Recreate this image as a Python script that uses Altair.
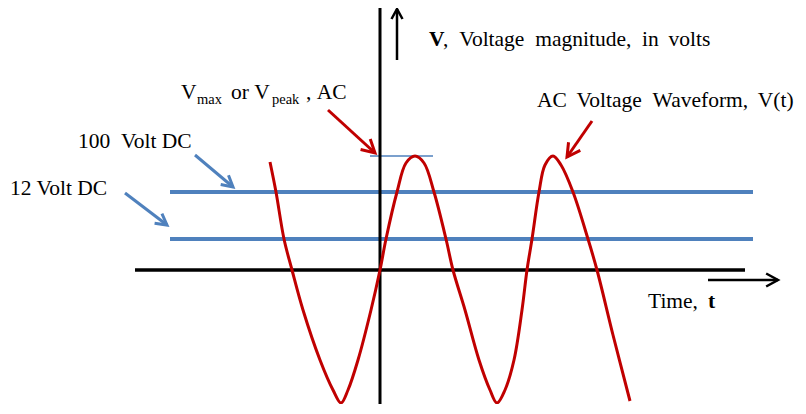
import math
import altair as alt
import pandas as pd

# ---- data (origin where the two axes cross; 1 unit = 1 px) ----
wave_t = [-110, -104, -96, -88, -77, -60, -47, -39, -32, -22, -9, 0, 6, 17, 26, 35,
          44, 54, 66, 73, 85, 99, 110, 117, 125, 134, 142, 147, 152, 159, 165, 173,
          181, 193, 208, 217, 233, 250]
wave_v = [108, 78, 31, 0, -40, -90, -120, -133, -120, -90, -40, 0, 31, 78, 107, 114,
          107, 78, 31, 0, -40, -90, -120, -133, -120, -90, -40, 0, 31, 78, 105, 114,
          105, 78, 31, 0, -65, -131]

dc_names = ["100 Volt DC", "12 Volt DC"]
dc_levels = [78, 31]
dc_span = [-210, 373]

vpeak_level = 114
vpeak_span = [-10, 53]

time_axis_span = [-245, 365]
volt_axis_span = [-134, 262]

# arrows: tail (t1, v1) -> tip (t2, v2)
arrow_names = ["vmax", "ac", "dc100", "dc12", "time", "volt"]
arrow_t1 = [-52, 212, -185, -255, 328, 17]
arrow_v1 = [160, 149, 115, 77, -10, 210]
arrow_t2 = [-5, 187, -147, -213, 398, 17]
arrow_v2 = [117, 113, 83, 45, -10, 261]

RED = "#C00000"
BLUE = "#4F81BD"
BLACK = "#000000"
arrow_colors = [RED, RED, BLUE, BLUE, BLACK, BLACK]
arrow_widths = [3, 3, 3, 3, 2.5, 2.5]
arrow_heads = [676, 676, 484, 484, 560, 400]

FONT = "Liberation Serif"
NB = "\u00a0"
TH = "\u2009"

# ---- tables ----
wave = pd.DataFrame({"t": wave_t, "v": wave_v, "i": range(len(wave_t))})
dc = pd.DataFrame({"name": dc_names, "v": dc_levels,
                   "t": [dc_span[0]] * 2, "t2": [dc_span[1]] * 2})
vpk = pd.DataFrame({"t": [vpeak_span[0]], "t2": [vpeak_span[1]], "v": [vpeak_level]})
haxis = pd.DataFrame({"t": [time_axis_span[0]], "t2": [time_axis_span[1]], "v": [0]})
vaxis = pd.DataFrame({"t": [0], "v": [volt_axis_span[0]], "v2": [volt_axis_span[1]]})

angles = []
for a, b, c, d in zip(arrow_t1, arrow_v1, arrow_t2, arrow_v2):
    angles.append(math.degrees(math.atan2(c - a, d - b)) % 360)
arrows = pd.DataFrame({"name": arrow_names, "t": arrow_t1, "v": arrow_v1,
                       "t2": arrow_t2, "v2": arrow_v2, "color": arrow_colors,
                       "w": arrow_widths, "size": arrow_heads, "ang": angles})

texts_reg = pd.DataFrame({
    "text": [
        f",{NB}{NB}Voltage{NB}{NB}magnitude,{NB}{NB}in{NB}{TH}volts",
        "V", "max", f"or{NB}V", "peak", f",{NB}AC",
        f"100{NB}{NB}Volt DC",
        "12 Volt DC",
        f"AC{NB}{TH}Voltage{NB}{NB}Waveform,{NB}{TH}V(t)",
        f"Time,{NB}{NB}",
    ],
    "t": [63, -199, -183, -149, -108, -74, -302, -370, 157, 268],
    "v": [224, 171, 166, 171, 166, 171, 122, 75, 163, -38],
    "size": [21.5, 21.5, 14.5, 21.5, 14.5, 21.5, 21.5, 21.5, 21.5, 21.5],
})
texts_bold = pd.DataFrame({"text": ["V", "t"], "t": [49, 328], "v": [224, -38]})

xs = alt.Scale(domain=[-372, 418], nice=False, zero=False)
ys = alt.Scale(domain=[-134, 262], nice=False, zero=False)


def X(f):
    return alt.X(f"{f}:Q", scale=xs, axis=None)


def Y(f):
    return alt.Y(f"{f}:Q", scale=ys, axis=None)


axes_h = alt.Chart(haxis).mark_rule(color=BLACK, strokeWidth=3.5, strokeCap="butt").encode(
    x=X("t"), x2="t2:Q", y=Y("v"))
axes_v = alt.Chart(vaxis).mark_rule(color=BLACK, strokeWidth=3, strokeCap="butt").encode(
    x=X("t"), y=Y("v"), y2="v2:Q")
dc_lines = alt.Chart(dc).mark_rule(color=BLUE, strokeWidth=4, strokeCap="butt").encode(
    x=X("t"), x2="t2:Q", y=Y("v"))
vpk_line = alt.Chart(vpk).mark_rule(color=BLUE, strokeWidth=1.5, strokeCap="butt").encode(
    x=X("t"), x2="t2:Q", y=Y("v"))
wave_line = alt.Chart(wave).mark_line(color=RED, strokeWidth=3, interpolate="catmull-rom").encode(
    x=X("t"), y=Y("v"), order="i:Q")

shafts = alt.Chart(arrows).mark_rule(strokeCap="butt").encode(
    x=X("t"), y=Y("v"), x2="t2:Q", y2="v2:Q",
    color=alt.Color("color:N", scale=None),
    strokeWidth=alt.StrokeWidth("w:Q", scale=None))
heads = alt.Chart(arrows).mark_point(
    shape="M-0.55,1L0,0L0.55,1", filled=False, opacity=1, strokeJoin="miter").encode(
    x=X("t2"), y=Y("v2"),
    color=alt.Color("color:N", scale=None),
    strokeWidth=alt.StrokeWidth("w:Q", scale=None),
    size=alt.Size("size:Q", scale=None),
    angle=alt.Angle("ang:Q", scale=None))

txt = alt.Chart(texts_reg).mark_text(
    font=FONT, align="left", baseline="alphabetic", color=BLACK).encode(
    x=X("t"), y=Y("v"), text="text:N", size=alt.Size("size:Q", scale=None))
txt_b = alt.Chart(texts_bold).mark_text(
    font=FONT, fontSize=21.5, fontWeight="bold", align="left", baseline="alphabetic",
    color=BLACK).encode(x=X("t"), y=Y("v"), text="text:N")

chart = alt.layer(
    dc_lines, vpk_line, axes_h, axes_v, wave_line, shafts, heads, txt, txt_b
).properties(
    width=790, height=396, padding=0, autosize="none", background="white"
).configure_view(stroke=None)

chart.save("out.html", embed_options={"renderer": "svg", "actions": False})
